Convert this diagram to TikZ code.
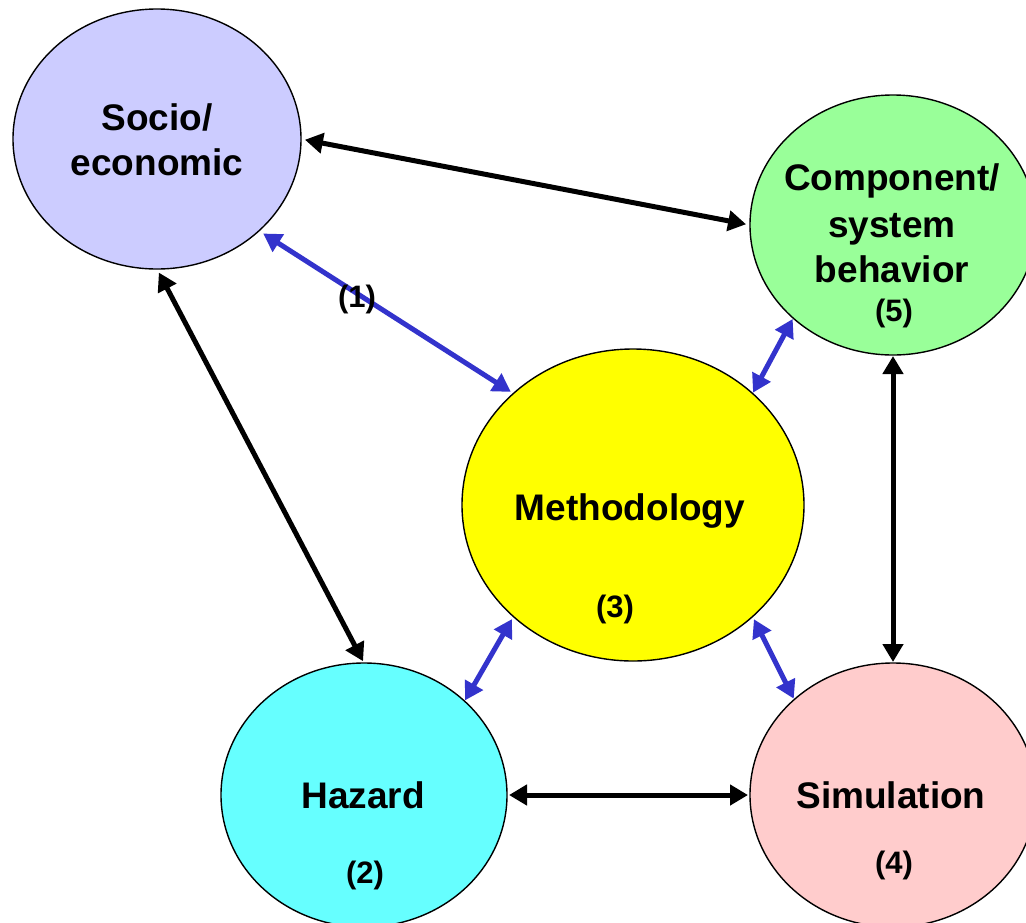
\documentclass[tikz,border=0pt]{standalone}
\usepackage{fontspec}
\setmainfont{Liberation Sans}
\usetikzlibrary{shapes.geometric,arrows.meta}
\definecolor{socfill}{HTML}{CCCCFF}
\definecolor{comfill}{HTML}{99FF99}
\definecolor{metfill}{HTML}{FFFF00}
\definecolor{hazfill}{HTML}{66FFFF}
\definecolor{simfill}{HTML}{FFCCCC}
\definecolor{arrblue}{HTML}{3333CC}
\tikzset{
  bubble/.style={ellipse, draw=black, line width=1.4pt, inner sep=0pt, outer sep=0pt},
  bigtxt/.style={anchor=base, inner sep=0pt, font=\fontsize{37}{44}\selectfont\bfseries},
  numtxt/.style={anchor=base, inner sep=0pt, font=\fontsize{31}{37}\selectfont\bfseries},
  link/.style={line width=5pt, {Triangle[length=18pt,width=20pt]}-{Triangle[length=18pt,width=20pt]}},
  blacklink/.style={link, draw=black},
  bluelink/.style={link, draw=arrblue}
}
\begin{document}
\begin{tikzpicture}[x=1pt,y=-1pt]
\useasboundingbox (0,0) rectangle (1026,922);
\clip (0,0) rectangle (1026,922);
% bubbles
\node[bubble, fill=socfill, minimum width=288pt, minimum height=260pt] (soc) at (157,139) {};
\node[bubble, fill=comfill, minimum width=286pt, minimum height=260pt] (com) at (893,225) {};
\node[bubble, fill=metfill, minimum width=342pt, minimum height=312pt] (met) at (633,505) {};
\node[bubble, fill=hazfill, minimum width=286pt, minimum height=264pt] (haz) at (364,795) {};
\node[bubble, fill=simfill, minimum width=286pt, minimum height=264pt] (sim) at (893,795) {};
% texts
\node[bigtxt] (socA) at (157,130) {Socio/};
\node[bigtxt] (socB) at (157,175) {economic};
\node[bigtxt] (comA) at (892,190) {Component/};
\node[bigtxt] (comB) at (892,237) {system};
\node[bigtxt] (comC) at (892,282) {behavior};
\node[numtxt] (comN) at (894,321) {(5)};
\node[bigtxt] (metA) at (630,520) {Methodology};
\node[numtxt] (metN) at (615,617) {(3)};
\node[bigtxt] (hazA) at (363,808) {Hazard};
\node[numtxt] (hazN) at (365,883) {(2)};
\node[bigtxt] (simA) at (891,808) {Simulation};
\node[numtxt] (simN) at (894,873) {(4)};
% black connectors
\draw[blacklink, shorten <=4pt, shorten >=4pt] (soc.0) -- (com.180);
\draw[blacklink, shorten <=4pt, shorten >=2pt] (soc.-90) -- (haz.90);
\draw[blacklink, shorten <=1pt, shorten >=1pt] (com.-90) -- (sim.90);
\draw[blacklink, shorten <=2pt, shorten >=2pt] (haz.0) -- (sim.180);
% blue connectors
\draw[bluelink, shorten <=5pt, shorten >=3pt] (soc.-42.4) -- (met.137.4);
\draw[bluelink, shorten <=1pt, shorten >=1pt] (com.-137.1) -- (met.43.3);
\draw[bluelink, shorten <=3pt, shorten >=1pt] (met.-137.2) -- (haz.43.5);
\draw[bluelink, shorten <=3pt, shorten >=1pt] (met.-43.5) -- (sim.136.5);
\node[numtxt] (lab1) at (357,307) {(1)};
\end{tikzpicture}
\end{document}
